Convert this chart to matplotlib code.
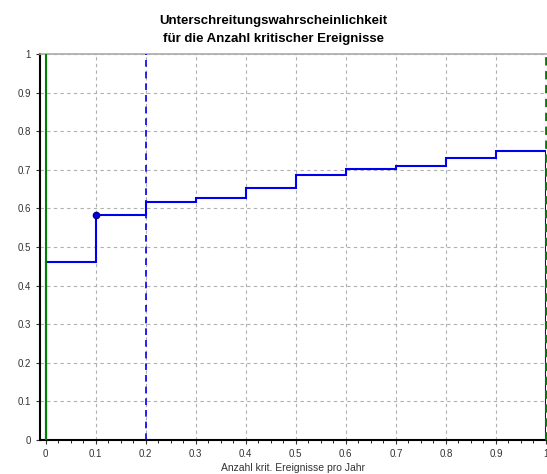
import matplotlib.pyplot as plt
import numpy as np

plt.rcParams['font.family'] = ['Liberation Sans', 'DejaVu Sans']

# step data: left edges and levels
x_edges = [0.0, 0.1, 0.2, 0.3, 0.4, 0.5, 0.6, 0.7, 0.8, 0.9, 1.0]
levels = [0.461, 0.583, 0.617, 0.627, 0.653, 0.687, 0.702, 0.710, 0.731, 0.749]
marker_x = 0.1
marker_y = 0.583
limit_x = 0.2
green_lines = [0.0, 1.0]

fig = plt.figure(figsize=(5.47, 4.74), dpi=100)
ax = fig.add_axes([40 / 547, 34 / 474, 506 / 547, 386 / 474])

ax.set_xlim(-0.011, 1.0)
ax.set_ylim(0, 1)

ax.set_xticks(np.arange(0, 1.01, 0.1))
ax.set_xticklabels(['0', '0.1', '0.2', '0.3', '0.4', '0.5', '0.6', '0.7', '0.8', '0.9', '1'])
ax.set_xticks(np.arange(0, 1.001, 0.025), minor=True)
ax.set_yticks(np.arange(0, 1.01, 0.1))
ax.set_yticklabels(['0', '0.1', '0.2', '0.3', '0.4', '0.5', '0.6', '0.7', '0.8', '0.9', '1'])
ax.tick_params(labelsize=7, colors='#333333', length=3, width=0.8)
ax.tick_params(which='minor', length=2, width=0.6)

ax.grid(True, linestyle=(0, (3, 3)), color='#b0b0b0', linewidth=0.8)

ax.stairs(levels, x_edges, color='#0000ee', linewidth=1.5, zorder=3)
ax.plot([marker_x], [marker_y], 'o', color='#0000ee', markersize=4.5, markeredgecolor='#000080', zorder=4)
ax.axvline(limit_x, color='#0000ee', linestyle=(0, (4, 3)), linewidth=1.2, zorder=3)
ax.axvline(green_lines[0], color='#008000', linewidth=1.5, zorder=3)
ax.axvline(green_lines[1], color='#008000', linestyle=(0, (3, 2)), linewidth=2, zorder=3, clip_on=False)

for s in ['left', 'bottom']:
    ax.spines[s].set_color('black')
    ax.spines[s].set_linewidth(1.5)
ax.spines['top'].set_color('#aaaaaa')
ax.spines['top'].set_linewidth(1.2)
ax.spines['right'].set_visible(False)

ax.set_xlabel('Anzahl krit. Ereignisse pro Jahr', fontsize=7.5, color='#333333', labelpad=3)
fig.suptitle('Unterschreitungswahrscheinlichkeit\nfür die Anzahl kritischer Ereignisse',
             fontsize=9.5, fontweight='bold', y=0.968, linespacing=1.6)

fig.savefig('out.png', dpi=100)
